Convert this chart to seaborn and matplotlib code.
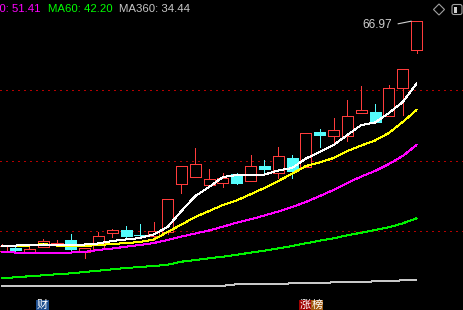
import numpy as np
import pandas as pd
import matplotlib
matplotlib.use("Agg")
import matplotlib.pyplot as plt
import seaborn as sns
from matplotlib.patches import Rectangle, Polygon, FancyBboxPatch
from matplotlib.transforms import IdentityTransform

# ---------------- data ----------------
opens  = [38.14, 38.49, 37.99, 38.64, 39.15, 39.46, 37.99, 38.37, 40.38, 40.72,
          40.09, 40.03, 40.47, 46.47, 47.42, 46.42, 46.59, 47.76, 46.92, 48.77,
          47.93, 49.77, 48.68, 53.05, 52.50, 52.58, 55.47, 55.56, 55.02, 58.52, 63.32]
highs  = [38.96, 38.71, 38.62, 39.59, 39.46, 40.22, 38.45, 40.50, 40.88, 41.22,
          41.47, 41.69, 44.58, 48.77, 51.07, 48.39, 47.93, 47.93, 50.15, 49.52,
          51.20, 50.15, 52.88, 53.42, 54.77, 57.03, 58.83, 56.57, 58.96, 60.93, 66.97]
lows   = [38.08, 38.01, 37.99, 38.64, 38.77, 38.11, 37.23, 38.37, 39.84, 39.88,
          39.90, 39.46, 40.18, 45.33, 47.42, 46.42, 46.09, 46.47, 46.92, 47.64,
          47.30, 47.30, 48.68, 51.12, 51.70, 51.95, 55.40, 54.34, 55.02, 55.18, 62.94]
closes = [38.71, 38.20, 38.33, 39.30, 39.15, 38.29, 38.45, 39.96, 40.68, 40.00,
          40.07, 40.55, 44.58, 48.77, 49.02, 47.10, 47.22, 46.67, 48.77, 48.43,
          50.03, 48.18, 52.88, 52.71, 53.26, 55.02, 55.77, 54.34, 58.54, 60.93, 66.97]

ma5   = [38.78, 38.78, 38.85, 38.91, 38.85, 38.85, 38.91, 39.04, 39.35, 39.54,
         39.73, 40.17, 41.11, 43.12, 45.00, 46.13, 47.39, 47.64, 47.70, 47.70,
         48.21, 48.52, 49.71, 50.53, 51.41, 52.67, 53.92, 54.24, 55.43, 56.81, 59.14]
ma10  = [38.66, 38.66, 38.78, 38.97, 38.78, 38.72, 38.72, 38.85, 38.97, 39.10,
         39.22, 39.54, 40.48, 41.42, 42.36, 43.12, 43.87, 44.46, 45.22, 46.01,
         46.89, 47.80, 48.77, 49.21, 49.78, 50.66, 51.35, 51.98, 52.92, 54.30, 55.81]
ma20  = [37.97, 37.90, 37.84, 37.84, 37.84, 37.90, 37.97, 38.22, 38.41, 38.63,
         38.85, 39.10, 39.48, 39.91, 40.29, 40.67, 41.15, 41.65, 42.08, 42.55,
         43.06, 43.62, 44.25, 45.00, 45.76, 46.64, 47.45, 48.14, 49.02, 50.03, 51.41]
ma60  = [34.66, 34.79, 34.92, 35.04, 35.17, 35.29, 35.46, 35.62, 35.79, 35.96,
         36.08, 36.21, 36.37, 36.75, 36.96, 37.18, 37.38, 37.63, 37.88, 38.13,
         38.43, 38.72, 39.06, 39.39, 39.69, 40.07, 40.39, 40.73, 41.07, 41.57, 42.20]
ma360 = [33.73, 33.73, 33.66, 33.66, 33.66, 33.66, 33.66, 33.73, 33.73, 33.73,
         33.73, 33.73, 33.73, 33.73, 33.73, 33.73, 33.73, 33.91, 33.91, 33.91,
         33.91, 34.04, 34.04, 34.04, 34.16, 34.16, 34.16, 34.29, 34.29, 34.41, 34.44]

ma_labels = ["MA20: 51.41", "MA60: 42.20", "MA360: 34.44"]
grid_levels = [58.28, 49.36, 40.57]
peak_label = "66.97"
bottom_tags = ["财", "涨", "榜"]

# ---------------- style ----------------
sns.set_theme(style="dark")
plt.rcParams['font.family'] = ['Liberation Sans', 'Noto Sans CJK SC', 'DejaVu Sans']

RED = '#ff3c3c'
CYAN = '#54fcfc'
W, H = 463, 310

fig = plt.figure(figsize=(W / 100, H / 100), dpi=100, facecolor='black')
ax = fig.add_axes([0, 0, 1, 1])
ax.set_facecolor('black')

n = len(opens)
df = pd.DataFrame({
    'idx': np.arange(n), 'open': opens, 'high': highs, 'low': lows, 'close': closes,
    'ma5': ma5, 'ma10': ma10, 'ma20': ma20, 'ma60': ma60, 'ma360': ma360,
})

# dotted horizontal levels
for lv in grid_levels:
    ax.axhline(lv, color='#b40000', lw=0.72, ls=(0, (1.4, 4.2)), antialiased=False, zorder=1)

# candles
up = df[df['close'] >= df['open']]
dn = df[df['close'] < df['open']]
lw_px = 0.72

# up candles: hollow red boxes, wick outside the body
ax.vlines(up['idx'], np.maximum(up['open'], up['close']), up['high'],
          color=RED, lw=lw_px, antialiased=False, zorder=3)
ax.vlines(up['idx'], up['low'], np.minimum(up['open'], up['close']),
          color=RED, lw=lw_px, antialiased=False, zorder=3)
bars = ax.bar(up['idx'], up['close'] - up['open'], bottom=up['open'], width=0.8,
              facecolor='black', edgecolor=RED, linewidth=lw_px, zorder=3)
for b in bars:
    b.set_antialiased(False)

# down candles: filled cyan
ax.vlines(dn['idx'], dn['low'], dn['high'], color=CYAN, lw=lw_px,
          antialiased=False, zorder=3)
bars = ax.bar(dn['idx'], dn['close'] - dn['open'], bottom=dn['open'], width=0.8,
              facecolor=CYAN, edgecolor=CYAN, linewidth=lw_px, zorder=3)
for b in bars:
    b.set_antialiased(False)

# moving averages
ma_styles = [('ma360', '#c8c8c8'), ('ma60', '#00f000'), ('ma20', '#ff00ff'),
             ('ma10', '#ffff00'), ('ma5', '#ffffff')]
for col, c in ma_styles:
    sns.lineplot(data=df, x='idx', y=col, color=c, linewidth=0.72, ax=ax,
                 zorder=4, antialiased=False, legend=False)

ax.set_xlim(-0.12, 33.36)
ax.set_ylim(30.68, 69.63)
ax.axis('off')

# peak annotation
ax.annotate(peak_label, xy=(29.62, highs[-1]), xycoords='data',
            xytext=(392, H - 25), textcoords='figure pixels',
            ha='right', va='center', color='#d0d0d0', fontsize=8.5,
            arrowprops=dict(arrowstyle='-', color='#d0d0d0', lw=0.8,
                            shrinkA=2, shrinkB=0, relpos=(1, 0.5)),
            zorder=6)

# header (first item is clipped at the left edge, as in the reference)
hdr_colors = ['#ff00ff', '#00ff00', '#c8c8c8']
fig.text(41 / W, 1 - 8.5 / H, ma_labels[0], ha='right', va='center',
         color=hdr_colors[0], fontsize=8.2)
fig.text(48 / W, 1 - 8.5 / H, ma_labels[1], ha='left', va='center',
         color=hdr_colors[1], fontsize=8.2)
fig.text(119 / W, 1 - 8.5 / H, ma_labels[2], ha='left', va='center',
         color=hdr_colors[2], fontsize=8.2)

# top-right icons
idt = IdentityTransform()
fig.add_artist(Polygon([(439, H - 4), (444.5, H - 9.5), (439, H - 15), (433.5, H - 9.5)],
                       closed=True, fill=False, edgecolor='#a0a0a0', lw=0.8, transform=idt))
fig.add_artist(FancyBboxPatch((452, H - 14.5), 10, 10,
                              boxstyle='round,pad=0,rounding_size=2',
                              fill=False, edgecolor='#a0a0a0', lw=0.8, transform=idt))
fig.add_artist(Rectangle((454, H - 12.5), 3, 6, facecolor='#d0d0d0',
                         edgecolor='none', transform=idt))

# bottom tags
tag_boxes = [(36, 49, '#1f4f8f'), (299, 311, '#a00000'), (311, 323, '#a05a10')]
for t, (x0, x1, bg) in zip(bottom_tags, tag_boxes):
    fig.add_artist(Rectangle((x0, 0), x1 - x0, 10.5, facecolor=bg,
                             edgecolor='none', transform=idt))
    fig.text((x0 + x1) / 2 / W, 5.5 / H, t, ha='center', va='center',
             color='white', fontsize=8, family=['Noto Sans CJK SC', 'DejaVu Sans'])

fig.savefig('out.png', dpi=100, facecolor='black')
